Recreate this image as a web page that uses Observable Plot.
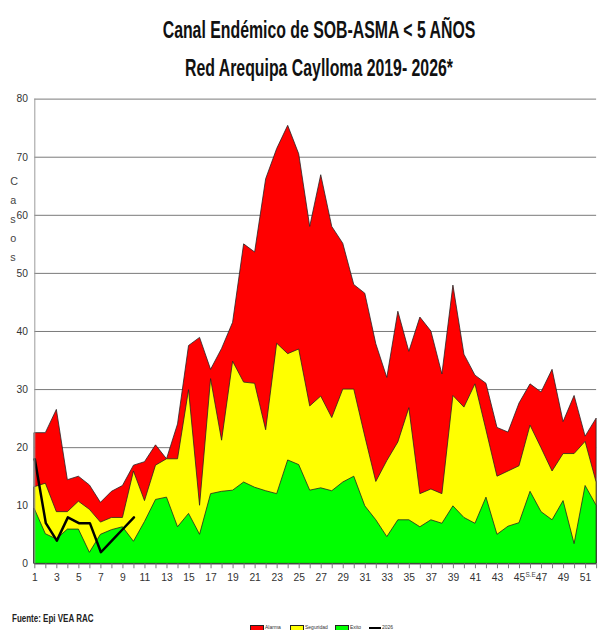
<!DOCTYPE html>
<html>
<head>
<meta charset="utf-8">
<script src="https://cdn.jsdelivr.net/npm/d3@7"></script>
<script src="https://cdn.jsdelivr.net/npm/@observablehq/plot@0.6"></script>
<style>
  html, body { margin: 0; padding: 0; background: #fff; overflow: hidden; }
  body { width: 602px; height: 630px; position: relative;
    font-family: "Liberation Sans", Arial, sans-serif; }
  #titulo { position: absolute; top: 11px; left: 36px; width: 566px; text-align: center;
    font-weight: bold; font-size: 24px; line-height: 38px; color: #111;
    transform: scaleX(0.66); transform-origin: 283px 0; }
  #grafico { position: absolute; top: 80px; left: 0; }
  #fuente { position: absolute; top: 613px; left: 12px; font-size: 10px; font-weight: bold; color: #222;
    transform: scaleX(0.8); transform-origin: 0 0; white-space: nowrap; }
  .item { position: absolute; top: 624px; font-size: 5px; color: #333; white-space: nowrap; }
  .item span.sw { display: inline-block; width: 12px; height: 4px; border: 0.5px solid #222; margin-right: 1px; vertical-align: middle; }
  .item span.ln { display: inline-block; width: 12px; height: 2px; background: #000; margin-right: 1px; vertical-align: middle; }
</style>
</head>
<body>
<div id="titulo">Canal Endémico de SOB-ASMA &lt; 5 AÑOS<br>Red Arequipa Caylloma 2019- 2026*</div>
<div id="grafico"></div>
<div id="fuente">Fuente: Epi VEA RAC</div>
<div class="item" style="left:250px"><span class="sw" style="background:#ff0000"></span>Alarma</div>
<div class="item" style="left:290px"><span class="sw" style="background:#ffff00"></span>Seguridad</div>
<div class="item" style="left:335px"><span class="sw" style="background:#00ff00"></span>Exito</div>
<div class="item" style="left:369px"><span class="ln"></span>2026</div>
<script>
// semanas epidemiologicas
const semanas = [1,2,3,4,5,6,7,8,9,10,11,12,13,14,15,16,17,18,19,20,21,22,23,24,25,26,
  27,28,29,30,31,32,33,34,35,36,37,38,39,40,41,42,43,44,45,46,47,48,49,50,51,52]

// limite superior de cada zona del canal
const alarma = [22.5,22.5,26.5,14.4,15.0,13.5,10.5,12.4,13.4,16.9,17.5,20.4,18.0,24.0,37.5,38.9,
  33.4,37.0,41.5,55.0,53.6,66.2,71.4,75.4,70.5,58.0,66.9,58.0,55.1,48.0,46.5,37.8,32.0,43.4,
  36.5,42.4,40.0,32.6,47.9,36.0,32.4,31.0,23.4,22.6,27.6,30.9,29.5,33.4,24.4,28.9,21.9,25.0]
const seguridad = [13.2,13.8,8.9,8.9,10.7,9.3,7.1,7.9,7.9,15.9,10.8,16.9,18.0,18.0,29.9,10.0,
  31.8,21.2,34.8,31.2,31.0,23.0,37.9,36.1,36.9,27.1,28.8,25.1,30.0,30.0,21.9,14.1,17.7,20.9,
  26.8,12.0,12.8,12.0,28.9,26.9,30.9,23.0,15.0,15.9,16.8,23.8,19.9,15.9,18.9,18.9,21.0,14.0]
const exito = [9.4,5.1,4.2,5.9,5.9,1.9,5.0,5.8,6.3,3.8,7.2,11.0,11.4,6.3,8.6,5.0,12.0,12.4,
  12.6,14.0,13.1,12.5,12.0,17.8,17.0,12.6,13.0,12.5,14.0,15.0,9.9,7.5,4.6,7.5,7.5,6.3,7.5,
  6.9,9.9,7.9,6.9,11.4,5.0,6.4,7.0,12.4,8.9,7.5,10.8,3.4,13.4,10.0]

// casos 2026
const semanas2026 = [1,2,3,4,5,6,7,8,9,10]
const casos2026 = [18,7,4,8,7,7,2,4,6,8]

const yTicks = [0,10,20,30,40,50,60,70,80]

const canal = semanas.map((s, i) => ({semana: s, alarma: alarma[i], seguridad: seguridad[i], exito: exito[i]}))
const actual = semanas2026.map((s, i) => ({semana: s, casos: casos2026[i]}))

const borde = {stroke: "#222", strokeWidth: 0.8}

let grafico = Plot.plot({
  width: 614,
  height: 523,
  marginTop: 19,
  marginLeft: 35,
  marginRight: 6,
  marginBottom: 30,
  style: {
    fontFamily: '"Liberation Sans", Arial, sans-serif',
    fontSize: "10.5px",
    color: "#333",
    overflow: "visible"
  },
  x: {domain: [1, 52]},
  y: {domain: [0, 80]},
  marks: [
    Plot.gridY(yTicks, {stroke: "#777", strokeOpacity: 1}),
    Plot.areaY(canal, {x: "semana", y: "alarma", fill: "#ff0000", ...borde}),
    Plot.areaY(canal, {x: "semana", y: "seguridad", fill: "#ffff00", ...borde}),
    Plot.areaY(canal, {x: "semana", y: "exito", fill: "#00ff00", ...borde}),
    Plot.line(actual, {x: "semana", y: "casos", stroke: "#000", strokeWidth: 2.5}),
    Plot.ruleX([1], {stroke: "#999"}),
    Plot.ruleY([0], {stroke: "#555"}),
    Plot.axisY(yTicks, {tickSize: 0, tickPadding: 7, label: null}),
    Plot.axisX(semanas, {tickSize: 5, tickPadding: 5, label: null, stroke: "#777",
      tickFormat: d => d % 2 ? String(d) : ""}),
    Plot.text(["S.E"], {x: 46, y: 0, dy: 11, fontSize: 6.5, fill: "#444"}),
    Plot.text(["C\na\ns\no\ns"], {frameAnchor: "top-left", dx: -25, dy: 74, lineAnchor: "top",
      lineHeight: 1.75, fontSize: 11, fill: "#444"})
  ]
})

d3.select('#grafico').append(() => grafico)
</script>
</body>
</html>
